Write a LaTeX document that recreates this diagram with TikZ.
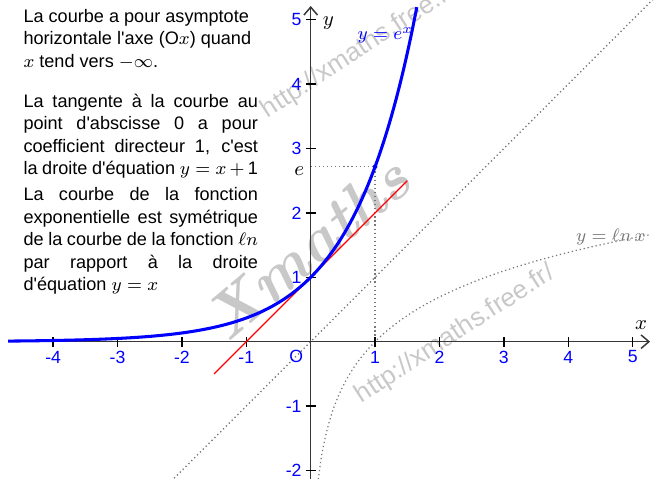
\documentclass[tikz,border=0pt]{standalone}
\usepackage{fontspec}
\newfontfamily\arialf{Liberation Sans}
\usetikzlibrary{arrows.meta}
\definecolor{axisgray}{RGB}{55,55,55}
\definecolor{wm}{RGB}{200,200,200}
\definecolor{dotgray}{RGB}{120,120,120}
\begin{document}
\begin{tikzpicture}[x=1cm,y=1cm,
  axis/.style={draw=axisgray, line width=0.65pt},
  tickmark/.style={draw=black, line width=0.6pt},
  ticklab/.style={font=\arialf\fontsize{7.8}{8.5}\selectfont, text=blue, inner sep=0pt},
  para/.style={font=\arialf\fontsize{8}{9.94}\selectfont, inner sep=0pt, anchor=base west},
  dotline/.style={draw=dotgray, line width=0.55pt, dash pattern=on 0.55pt off 1.25pt},
  wmark/.style={font=\arialf\fontsize{11.5}{12}\selectfont, text=wm, rotate=33, anchor=base, inner sep=0pt},
  arr/.style={-{Straight Barb[length=3.5pt,width=6pt]}},
  mlab/.style={font=\fontsize{9}{10}\selectfont, inner sep=0pt}
]
\useasboundingbox (-4.825,-2.132) rectangle (5.362,5.306);
\clip (-4.825,-2.132) rectangle (5.362,5.306);

% watermarks
\node[wmark] (wm1) at (0.842,4.452) {http://xmaths.free.fr/};
\node[wmark] (wm2) at (2.303,0.026) {http://xmaths.free.fr/};
\node[font=\bfseries\itshape\fontsize{28}{30}\selectfont, text=wm, rotate=40, inner sep=0pt] (wm3) at (-0.05,1.45) {Xmaths};

% dotted lines
\coordinate (D1) at (-2.3,-2.3);
\coordinate (D2) at (5.5,5.5);
\draw[dotline] (D1) -- (D2);
\draw[dotline] plot[domain=0.118:5.25, samples=120, smooth] (\x,{ln(\x)});
\coordinate (E) at (1,{exp(1)});
\coordinate (Ey) at (0,{exp(1)});
\coordinate (E1) at (1,0);
\draw[dotline] (Ey) -- (E) -- (E1);

% axes
\coordinate (xs) at (-4.62,0);
\coordinate (xe) at (5.27,0);
\coordinate (ys) at (0,-2.2);
\coordinate (ye) at (0,5.213);
\draw[axis, arr] (xs) -- (xe);
\draw[axis, arr] (ys) -- (ye);

\foreach \i in {-4,-3,-2,-1,1,2,3,4,5} {
  \draw[tickmark] (\i,-0.08) -- (\i,0.08);
  \node[ticklab] (tx\i) at (\i,-0.238) {\i};
}
\foreach \j in {-2,-1,1,2,3,4,5} {
  \draw[tickmark] (-0.08,\j) -- (0.08,\j);
  \node[ticklab, anchor=east] (ty\j) at (-0.135,\j) {\j};
}
\node[ticklab] (O) at (-0.225,-0.225) {O};

% tangent and curve
\coordinate (T1) at (-1.5,-0.5);
\coordinate (T2) at (1.5,2.5);
\draw[red, line width=0.5pt] (T1) -- (T2);
\draw[blue, line width=1.35pt] plot[domain=-4.7:1.65, samples=150, smooth] (\x,{exp(\x)});
\fill[blue] (E) circle (1.0pt);

% labels
\node[mlab] (elab) at (-0.177,2.655) {$e$};
\node[mlab] (ylab) at (0.273,4.944) {$y$};
\node[mlab] (xlab) at (5.129,0.259) {$x$};
\node[font=\fontsize{8}{9}\selectfont, text=blue, inner sep=0pt] (explab) at (1.158,4.76) {$y = e^x$};
\node[font=\fontsize{8}{9}\selectfont, text=dotgray, inner sep=0pt] (lnlab) at (4.66,1.63) {$y = \ell n\, x$};

% texts
\node[para] (p1) at (-4.467,4.957) {\parbox[t]{103.6pt}{La courbe a pour asymptote\\
horizontale l'axe (O$x$) quand\\
$x$ tend vers $-\infty$.}};
\node[para] (p2) at (-4.467,3.640) {\parbox[t]{103.6pt}{\makebox[\linewidth][s]{La tangente à la courbe au}\\
\makebox[\linewidth][s]{point d'abscisse 0 a pour}\\
\makebox[\linewidth][s]{coefficient directeur 1, c'est}\\
la droite d'équation $y = x + \mbox{1}$}};
\node[para] (p3) at (-4.467,2.19) {\parbox[t]{103.6pt}{\makebox[\linewidth][s]{La courbe de la fonction}\\
\makebox[\linewidth][s]{exponentielle est symétrique}\\
\makebox[\linewidth][s]{de la courbe de la fonction $\ell n$}\\
\makebox[\linewidth][s]{par rapport à la droite}\\
d'équation $y = x$}};
\end{tikzpicture}
\end{document}
